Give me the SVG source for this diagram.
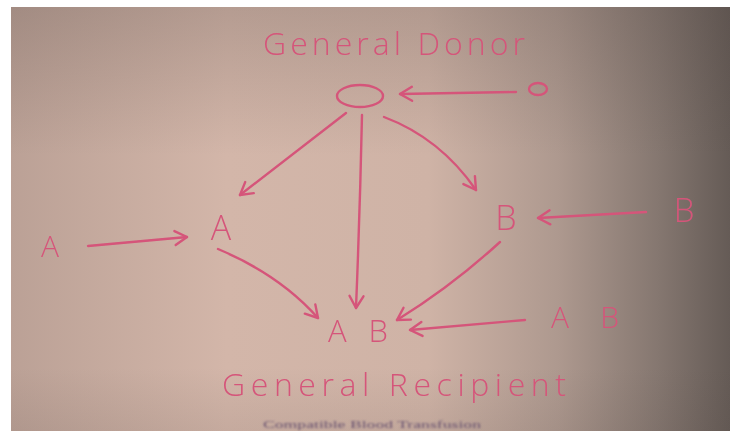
<svg xmlns="http://www.w3.org/2000/svg" width="738" height="431" viewBox="0 0 738 431">
  <defs>
    <linearGradient id="paper" x1="0" y1="0" x2="1" y2="0">
      <stop offset="0" stop-color="#bba196"/>
      <stop offset="0.3" stop-color="#d3b6a9"/>
      <stop offset="0.58" stop-color="#cfb3a6"/>
      <stop offset="0.76" stop-color="#ae998f"/>
      <stop offset="0.9" stop-color="#857770"/>
      <stop offset="1" stop-color="#655b56"/>
    </linearGradient>
    <linearGradient id="shade" x1="0" y1="0" x2="0" y2="1">
      <stop offset="0" stop-color="#4a3f3c" stop-opacity="0.22"/>
      <stop offset="0.35" stop-color="#4a3f3c" stop-opacity="0"/>
      <stop offset="0.85" stop-color="#4a3f3c" stop-opacity="0"/>
      <stop offset="1" stop-color="#4a3f3c" stop-opacity="0.1"/>
    </linearGradient>
    <filter id="soft" x="-5%" y="-5%" width="110%" height="110%">
      <feGaussianBlur stdDeviation="0.6"/>
    </filter>
    <filter id="softer" x="-5%" y="-20%" width="110%" height="140%">
      <feGaussianBlur stdDeviation="0.9"/>
    </filter>
    <marker id="head" viewBox="-14 -9 16 18" refX="0" refY="0" markerWidth="16" markerHeight="18" markerUnits="userSpaceOnUse" orient="auto">
      <path d="M-12,-7 L0,0 L-12,7" fill="none" stroke="#d5557a" stroke-width="2.4" stroke-linecap="round" stroke-linejoin="round"/>
    </marker>
  </defs>
  <style>
    .ink { fill: #d5557a; font-family: "Open Sans", "Liberation Sans", sans-serif; font-weight: 300; }
    .line { fill: none; stroke: #d5557a; stroke-width: 2.4; stroke-linecap: round; marker-end: url(#head); }
    .ring { fill: none; stroke: #d5557a; stroke-width: 2.4; }
    .caption { fill: #6a5470; font-family: "Liberation Serif", serif; font-size: 11px; }
  </style>

  <!-- white border around the sheet -->
  <rect width="738" height="431" fill="#ffffff"/>
  <rect x="11" y="7" width="719" height="424" fill="url(#paper)"/>
  <rect x="11" y="7" width="719" height="424" fill="url(#shade)"/>

  <g filter="url(#soft)">
    <!-- headings -->
    <text id="title-donor" class="ink" x="263" y="55" font-size="32" textLength="262" lengthAdjust="spacing">General Donor</text>
    <text id="title-recipient" class="ink" x="222" y="396" font-size="32" textLength="344" lengthAdjust="spacing">General Recipient</text>

    <!-- blood groups -->
    <g id="node-O"><ellipse class="ring" cx="360" cy="96" rx="23" ry="11"/></g>
    <g id="node-O-donor"><ellipse class="ring" cx="538" cy="89" rx="9" ry="6"/></g>

    <g id="node-A"><text class="ink" x="221" y="240" font-size="34" text-anchor="middle">A</text></g>
    <g id="node-A-donor"><text class="ink" x="50" y="257" font-size="30" text-anchor="middle">A</text></g>

    <g id="node-B"><text class="ink" x="506" y="230" font-size="34" text-anchor="middle">B</text></g>
    <g id="node-B-donor"><text class="ink" x="684" y="222" font-size="33" text-anchor="middle">B</text></g>

    <g id="node-AB"><text class="ink" x="358" y="342" font-size="31" text-anchor="middle" textLength="60" lengthAdjust="spacing">A B</text></g>
    <g id="node-AB-donor"><text class="ink" x="585" y="328" font-size="30" text-anchor="middle" textLength="68" lengthAdjust="spacing">A B</text></g>

    <!-- transfusion arrows -->
    <g id="connectors">
      <path class="line" d="M516,92 L400,94"/>
      <path class="line" d="M346,113 Q298,150 240,195"/>
      <path class="line" d="M362,115 Q360,210 356,308"/>
      <path class="line" d="M384,117 Q440,138 476,190"/>
      <path class="line" d="M88,246 L187,237"/>
      <path class="line" d="M646,212 L538,218"/>
      <path class="line" d="M218,249 Q280,275 318,318"/>
      <path class="line" d="M500,242 Q452,286 397,320"/>
      <path class="line" d="M525,320 L410,330"/>
    </g>
  </g>

  <text id="caption" class="caption" x="263" y="428" textLength="218" lengthAdjust="spacingAndGlyphs" filter="url(#softer)">Compatible Blood Transfusion</text>
</svg>
